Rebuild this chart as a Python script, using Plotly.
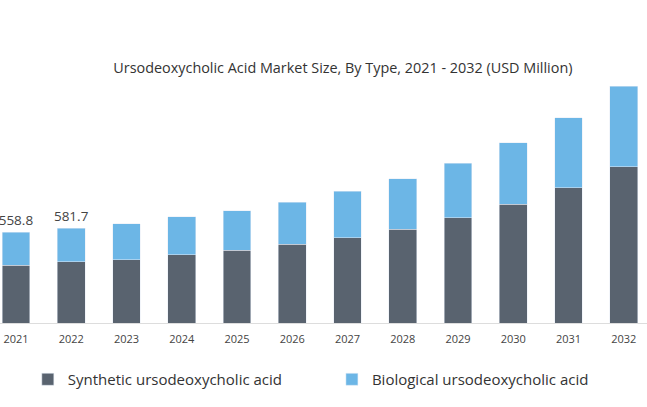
import plotly.graph_objects as go

years = ["2021", "2022", "2023", "2024", "2025", "2026", "2027", "2028", "2029", "2030", "2031", "2032"]
synthetic = [356, 375, 389, 419, 446, 483, 524, 575, 645, 729, 831, 960]
biological = [202.8, 206.7, 221, 232, 244, 258, 285, 312, 337, 379, 428, 493]
labels = ["558.8", "581.7", "", "", "", "", "", "", "", "", "", ""]

fig = go.Figure()
fig.add_trace(go.Bar(x=years, y=synthetic, name="Synthetic ursodeoxycholic acid",
                     marker_color="#59636f", legend="legend"))
fig.add_trace(go.Bar(x=years, y=biological, name="Biological ursodeoxycholic acid",
                     marker_color="#6cb6e6", text=labels, textposition="outside",
                     constraintext="none", textfont=dict(size=13.5, color="#444"),
                     cliponaxis=False, legend="legend2"))

legend_style = dict(orientation="h", xanchor="left", y=-0.215, yanchor="middle",
                    font=dict(size=15, color="#333"), bgcolor="rgba(0,0,0,0)")

fig.update_layout(
    barmode="stack",
    bargap=0.5,
    width=647, height=407,
    margin=dict(l=0, r=0, t=60, b=84),
    paper_bgcolor="white", plot_bgcolor="white",
    font=dict(family="Open Sans", color="#333"),
    title=dict(text="Ursodeoxycholic Acid Market Size, By Type, 2021 - 2032 (USD Million)",
               x=0.53, xanchor="center", y=1 - 68 / 407, yanchor="middle", yref="container",
               font=dict(size=14.4, color="#333")),
    xaxis=dict(range=[-0.29, 11.42], showline=True, linecolor="#dddddd", ticks="",
               ticklabelstandoff=6, tickfont=dict(size=11, color="#444")),
    yaxis=dict(range=[0, 1615], visible=False),
    legend=dict(x=0.043, **legend_style),
    legend2=dict(x=0.513, **legend_style),
    showlegend=True,
)

fig.write_html("out.html", post_script="document.body.style.margin='0';",
               config={"displayModeBar": False})
